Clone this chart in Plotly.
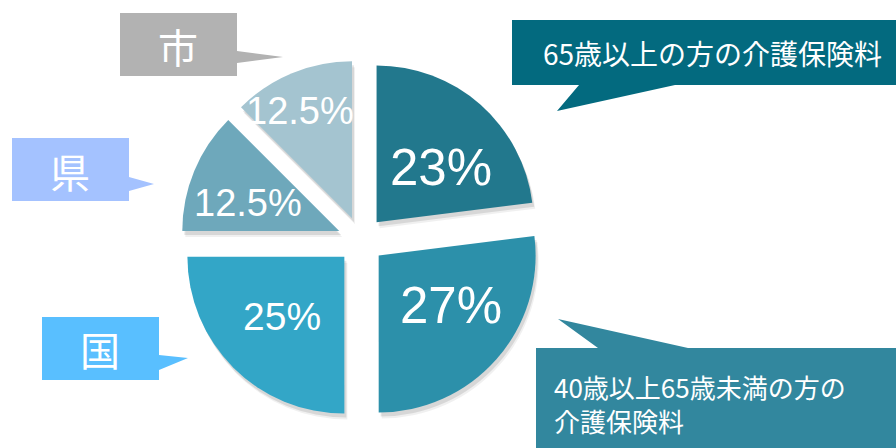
import plotly.graph_objects as go

# ---- data ----
categories = ["65歳以上の方の介護保険料", "40歳以上65歳未満の方の介護保険料", "国", "県", "市"]
shares = [23, 27, 25, 12.5, 12.5]
share_labels = ["23%", "27%", "25%", "12.5%", "12.5%"]
callout_texts = ["65歳以上の方の介護保険料", "40歳以上65歳未満の方の<br>介護保険料", "国", "県", "市"]

# ---- styles ----
W, H = 896, 448
slice_colors = ["#22788d", "#2c90aa", "#33a6c7", "#6ea8bb", "#a4c4d0"]
callout_colors = ["#036a7f", "#32879e", "#59bfff", "#a4c2ff", "#b2b2b2"]


def fx(x):
    return x / W


def fy(y):
    return 1 - y / H


def pie_trace(colors, dx=0, dy=0):
    return go.Pie(
        labels=categories,
        values=shares,
        sort=False,
        direction="clockwise",
        rotation=0,
        pull=[0.15] * len(shares),
        marker=dict(colors=colors, line=dict(width=0)),
        textinfo="none",
        hoverinfo="label+percent" if dx == 0 and dy == 0 else "skip",
        showlegend=False,
        domain=dict(x=[fx(180.5 + dx), fx(541.5 + dx)], y=[fy(420.5 + dy), fy(59.5 + dy)]),
    )


fig = go.Figure()
# soft drop shadow
fig.add_trace(pie_trace(["rgba(0,0,0,0.10)"] * len(shares), dx=2, dy=4))
fig.add_trace(pie_trace(["rgba(0,0,0,0.06)"] * len(shares), dx=3, dy=6))
fig.add_trace(pie_trace(slice_colors))


def path(points):
    return "M " + " L ".join(f"{fx(x):.5f},{fy(y):.5f}" for x, y in points) + " Z"


# callout outlines (pixel positions of the boxes and their tails)
callout_paths = [
    [(512, 20), (896, 20), (896, 85), (675, 85), (557, 111), (579, 85), (512, 85)],
    [(536, 348), (598, 348), (558, 319), (688, 348), (896, 348), (896, 448), (536, 448)],
    [(42, 317), (159, 317), (159, 355), (188, 358), (159, 370), (159, 380), (42, 380)],
    [(12, 138), (129, 138), (129, 177), (154, 184), (129, 191), (129, 201), (12, 201)],
    [(120, 13), (237, 13), (237, 51), (283, 57), (237, 63), (237, 76), (120, 76)],
]
shapes = []
for pts, col in zip(callout_paths, callout_colors):
    shapes.append(dict(type="path", xref="paper", yref="paper", path=path(pts),
                       fillcolor=col, line=dict(width=0), layer="above"))

annotations = []
# percentage labels inside slices
label_pos = [(441, 167, 51), (451, 305, 51), (282, 316, 39), (248, 203, 38), (300, 111, 38)]
for txt, (x, y, fs) in zip(share_labels, label_pos):
    annotations.append(dict(x=fx(x), y=fy(y), xref="paper", yref="paper", text=txt,
                            showarrow=False, xanchor="center", yanchor="middle",
                            font=dict(family="Liberation Sans, Arial", size=fs, color="white")))

# callout texts
callout_text_pos = [
    (541, 53, "left", "middle", 28),
    (552, 366, "left", "top", 26),
    (100, 349, "center", "middle", 40),
    (70, 171, "center", "middle", 40),
    (178, 46, "center", "middle", 40),
]
for txt, (x, y, xa, ya, fs) in zip(callout_texts, callout_text_pos):
    annotations.append(dict(x=fx(x), y=fy(y), xref="paper", yref="paper", text=txt,
                            showarrow=False, xanchor=xa, yanchor=ya, align="left",
                            font=dict(family="Noto Sans CJK JP", size=fs, color="white")))

fig.update_layout(
    width=W, height=H,
    margin=dict(l=0, r=0, t=0, b=0),
    paper_bgcolor="white",
    plot_bgcolor="white",
    shapes=shapes,
    annotations=annotations,
)

fig.write_html(
    "out.html",
    config={"displayModeBar": False},
    post_script="document.body.style.margin='0';document.body.style.overflow='hidden';",
)
